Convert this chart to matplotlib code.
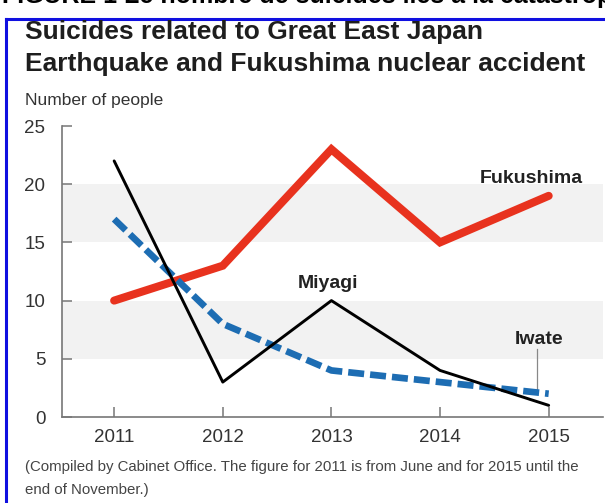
import matplotlib.pyplot as plt

plt.rcParams['font.family'] = ['Liberation Sans', 'DejaVu Sans']

years = [2011, 2012, 2013, 2014, 2015]
fukushima = [10, 13, 23, 15, 19]
miyagi = [22, 3, 10, 4, 1]
iwate = [17, 8, 4, 3, 2]
y_ticks = [0, 5, 10, 15, 20, 25]
bands = [(5, 10), (15, 20)]

fig = plt.figure(figsize=(6.05, 5.03), dpi=100)
fig.patch.set_facecolor('white')

# clipped caption at the very top and the blue frame
fig.text(0.003, 1 - 3 / 503, "FIGURE 1 Le nombre de suicides liés à la catastrophe",
         fontsize=18, fontweight='bold', color='black', va='baseline', ha='left')
fig.add_artist(plt.Line2D([0.01, 1.0], [0.963, 0.963], color='#1010e0', lw=2.2))
fig.add_artist(plt.Line2D([0.01, 0.01], [0.0, 0.963], color='#1010e0', lw=2.2))

ax = fig.add_axes([62 / 605, 1 - 417 / 503, 541 / 605, 291 / 503])
ax.set_xlim(2010.52, 2015.5)
ax.set_ylim(0, 25)

for lo, hi in bands:
    ax.axhspan(lo, hi, color='#f2f2f2', lw=0, zorder=0)

ax.plot(years, fukushima, color='#e8321e', lw=5.8, solid_capstyle='round',
        solid_joinstyle='miter', zorder=3, clip_on=False)
ax.plot(years, miyagi, color='black', lw=2.1, solid_capstyle='round',
        zorder=4, clip_on=False)
ax.plot(years, iwate, color='#1d6db3', lw=4.8, dashes=(2.4, 0.9),
        dash_capstyle='butt', zorder=3, clip_on=False)

ax.text(2014.37, 20.5, "Fukushima", fontsize=14, fontweight='bold', ha='left', va='center', color='#222222')
ax.text(2012.69, 11.5, "Miyagi", fontsize=14, fontweight='bold', ha='left', va='center', color='#222222')
ax.text(2014.69, 6.7, "Iwate", fontsize=14, fontweight='bold', ha='left', va='center', color='#222222')
ax.plot([2014.89, 2014.89], [2.3, 5.8], color='#888888', lw=0.9)

for s in ['top', 'right']:
    ax.spines[s].set_visible(False)
for s in ['left', 'bottom']:
    ax.spines[s].set_color('#777777')
    ax.spines[s].set_linewidth(1.2)

ax.set_yticks(y_ticks)
ax.set_xticks(years)
ax.tick_params(axis='both', direction='in', length=7, width=1.1, color='#777777',
               labelsize=13.5, labelcolor='#333333')
ax.tick_params(axis='y', pad=12)
ax.tick_params(axis='x', pad=9)

fig.text(25 / 605, 1 - 32 / 503, "Suicides related to Great East Japan",
         fontsize=19, fontweight='bold', color='#1e1e1e', va='center')
fig.text(25 / 605, 1 - 64 / 503, "Earthquake and Fukushima nuclear accident",
         fontsize=19, fontweight='bold', color='#1e1e1e', va='center')
fig.text(25 / 605, 1 - 100 / 503, "Number of people", fontsize=12.5,
         color='#333333', va='center')
fig.text(25 / 605, 1 - 467 / 503,
         "(Compiled by Cabinet Office. The figure for 2011 is from June and for 2015 until the",
         fontsize=10.8, color='#444444', va='center')
fig.text(25 / 605, 1 - 490 / 503, "end of November.)",
         fontsize=10.8, color='#444444', va='center')

fig.savefig('out.png', dpi=100)
